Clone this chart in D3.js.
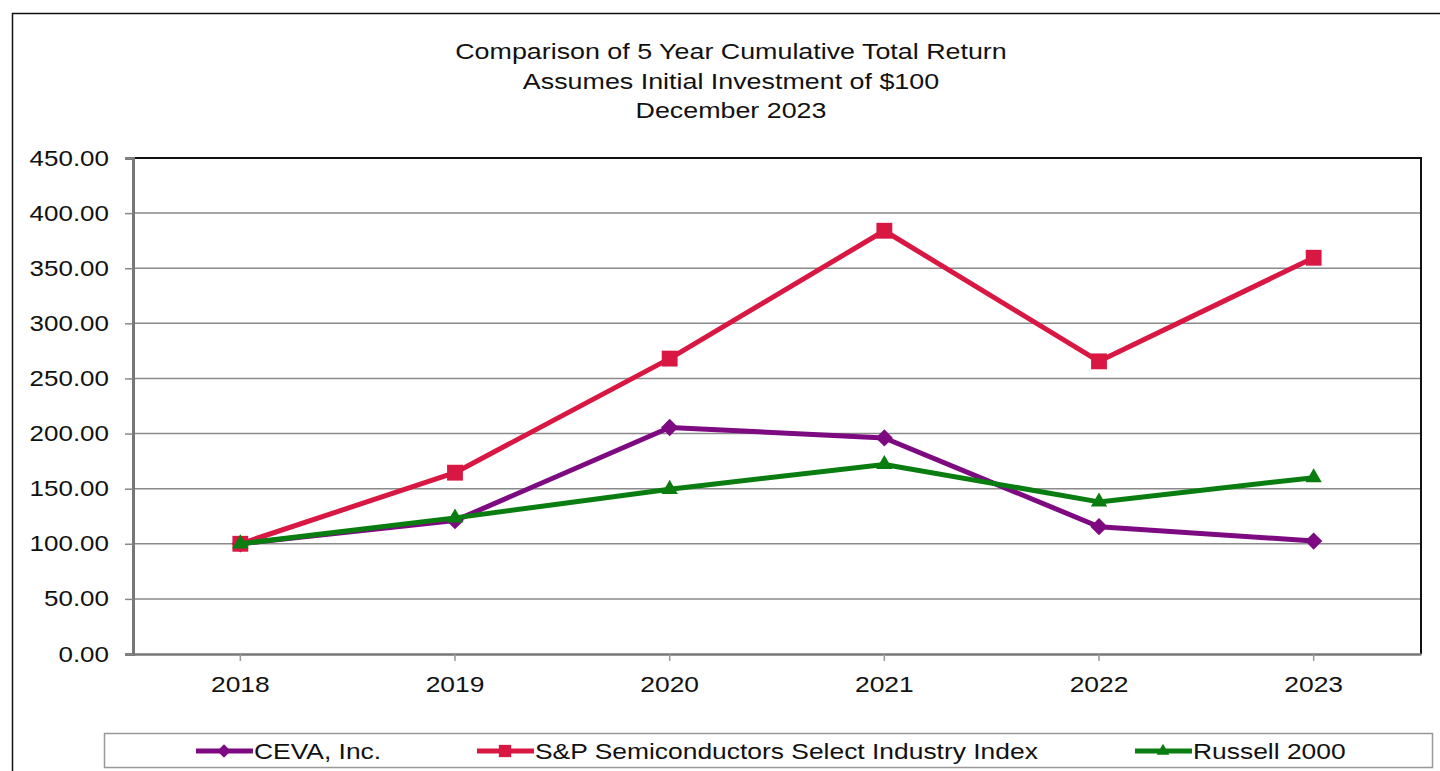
<!DOCTYPE html>
<html>
<head>
<meta charset="utf-8">
<script src="https://cdn.jsdelivr.net/npm/d3@7"></script>
<style>
  body { margin: 0; background: #fff; }
  svg { display: block; font-family: "Liberation Sans", Arial, sans-serif; }
</style>
</head>
<body>
<svg id="chart" width="1440" height="771"></svg>
<script>
// chart data
var years = ['2018', '2019', '2020', '2021', '2022', '2023'];
var ceva = [100, 121, 205.5, 196, 115.5, 102.5];
var semis = [100, 164.5, 268, 384, 265.5, 359.5];
var russell = [100, 123.5, 149.5, 172, 138, 160];
var yTicks = [0, 50, 100, 150, 200, 250, 300, 350, 400, 450];
var titleLines = ['Comparison of 5 Year Cumulative Total Return',
                  'Assumes Initial Investment of $100',
                  'December 2023'];

var series = [
    { name: 'CEVA, Inc.', values: ceva, color: '#7d0a80', marker: d3.symbolDiamond2, size: 190 },
    { name: 'S&P Semiconductors Select Industry Index', values: semis, color: '#d81842', marker: d3.symbolSquare2, size: 320 },
    { name: 'Russell 2000', values: russell, color: '#0a7d10', marker: d3.symbolTriangle2, size: 190 }
];

var svg = d3.select('#chart'),
    plot = { left: 133, top: 158, right: 1421, bottom: 654 };

// the source text is a bit wider than Liberation Sans, stretch it to fit
function stretch(k) {
    return function() {
        this.setAttribute('textLength', this.getComputedTextLength() * k);
        this.setAttribute('lengthAdjust', 'spacingAndGlyphs');
    };
}

// outer frame, right and bottom run off the page
svg.append('rect')
    .attr('x', 12.5).attr('y', 13.5)
    .attr('width', 1440).attr('height', 780)
    .style('fill', 'none')
    .style('stroke', '#111')
    .style('stroke-width', 1.5);

svg.append('g').selectAll('text')
    .data(titleLines)
    .enter().append('text')
    .attr('x', 731)
    .attr('y', function(d, i) { return 59 + i * 29.5; })
    .attr('text-anchor', 'middle')
    .attr('font-size', '22px')
    .attr('fill', '#111')
    .text(function(d) { return d; })
    .each(stretch(1.22));

var x = d3.scaleBand().domain(years).range([plot.left, plot.right]);
var y = d3.scaleLinear().domain([0, 450]).range([plot.bottom, plot.top]);

// gridlines
svg.append('g').selectAll('line')
    .data(yTicks.slice(1, -1))
    .enter().append('line')
    .attr('x1', plot.left).attr('x2', plot.right)
    .attr('y1', function(d) { return y(d); })
    .attr('y2', function(d) { return y(d); })
    .style('stroke', '#8a8a8a')
    .style('stroke-width', 1.5);

// top and right frame of the plot
svg.append('path')
    .attr('d', 'M' + plot.left + ',' + plot.top + 'H' + plot.right + 'V' + plot.bottom)
    .style('fill', 'none')
    .style('stroke', '#111')
    .style('stroke-width', 2);

var yAxis = svg.append('g')
    .attr('transform', 'translate(' + plot.left + ',0)')
    .call(d3.axisLeft(y).tickValues(yTicks).tickSize(8).tickPadding(16)
        .tickFormat(d3.format('.2f')));
yAxis.select('.domain').style('stroke', '#777').style('stroke-width', 3);
yAxis.selectAll('.tick line').style('stroke', '#888').style('stroke-width', 1.5);
yAxis.selectAll('text').attr('font-size', '22px').attr('fill', '#111')
    .attr('font-family', '"Liberation Sans", Arial, sans-serif')
    .each(stretch(1.18));

var xAxis = svg.append('g')
    .attr('transform', 'translate(0,' + plot.bottom + ')')
    .call(d3.axisBottom(x).tickSize(7).tickPadding(15).tickSizeOuter(0));
xAxis.select('.domain').style('stroke', '#777').style('stroke-width', 2.5);
xAxis.selectAll('.tick line').style('stroke', '#999').style('stroke-width', 1.5);
xAxis.selectAll('text').attr('font-size', '22px').attr('fill', '#111')
    .attr('font-family', '"Liberation Sans", Arial, sans-serif')
    .each(stretch(1.2));

var line = d3.line()
    .x(function(d, i) { return x(years[i]) + x.bandwidth() / 2; })
    .y(function(d) { return y(d); });

// draw in order so green ends on top like the reference
series.forEach(function(s) {
    var g = svg.append('g');

    g.append('path')
        .datum(s.values)
        .attr('d', line)
        .style('fill', 'none')
        .style('stroke', s.color)
        .style('stroke-width', 5)
        .style('stroke-linejoin', 'round');

    g.selectAll('path.marker')
        .data(s.values)
        .enter().append('path')
        .attr('class', 'marker')
        .attr('transform', function(d, i) {
            return 'translate(' + (x(years[i]) + x.bandwidth() / 2) + ',' + y(d) + ')';
        })
        .attr('d', d3.symbol().type(s.marker).size(s.size))
        .style('fill', s.color);
});

// legend
var legend = svg.append('g');
legend.append('rect')
    .attr('x', 104.5).attr('y', 733.5)
    .attr('width', 1328).attr('height', 34)
    .style('fill', '#fff')
    .style('stroke', '#999')
    .style('stroke-width', 1.5);

var legendX = [196, 477, 1135];
series.forEach(function(s, i) {
    var lx = legendX[i], ly = 751;
    legend.append('line')
        .attr('x1', lx).attr('x2', lx + 57)
        .attr('y1', ly).attr('y2', ly)
        .style('stroke', s.color)
        .style('stroke-width', 5);
    legend.append('path')
        .attr('transform', 'translate(' + (lx + 28) + ',' + ly + ')')
        .attr('d', d3.symbol().type(s.marker).size(s.size * 0.6))
        .style('fill', s.color);
    legend.append('text')
        .attr('x', lx + 58)
        .attr('y', ly + 8)
        .attr('font-size', '22px')
        .attr('fill', '#111')
        .text(s.name)
        .each(stretch(1.2));
});
</script>
</body>
</html>
